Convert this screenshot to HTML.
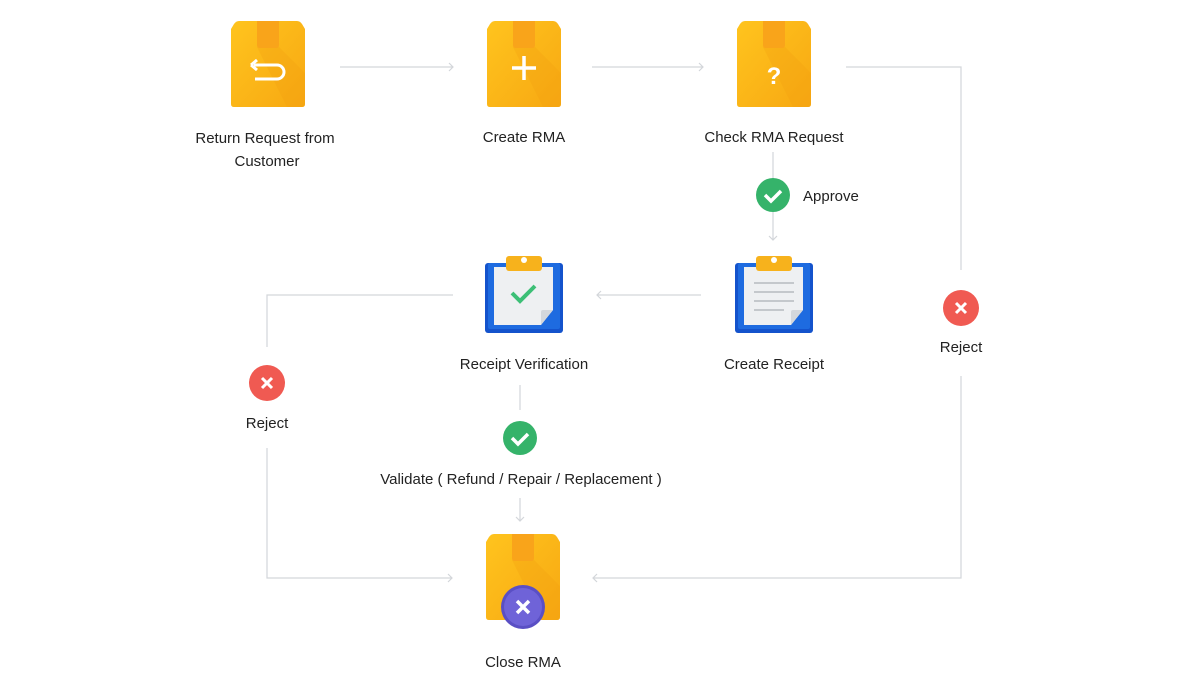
<!DOCTYPE html>
<html><head><meta charset="utf-8"><style>
html,body{margin:0;padding:0;background:#fff;}
svg{display:block;}
text{font-family:"Liberation Sans",sans-serif;font-size:15px;fill:#222;}
</style></head><body>
<svg width="1200" height="691" viewBox="0 0 1200 691" xmlns="http://www.w3.org/2000/svg">
<defs>
<linearGradient id="bx" x1="0" y1="0" x2="1" y2="1"><stop offset="0" stop-color="#ffc41e"/><stop offset="1" stop-color="#f7a812"/></linearGradient>
<g id="box">
<path d="M8 0 H66 Q69 0 71 3 L74 8 V83 Q74 86 71 86 H3 Q0 86 0 83 V8 L3 3 Q5 0 8 0 Z" fill="url(#bx)"/>
<path d="M48 26 L74 52 V83 Q74 86 71 86 H56 L26 26 Z" fill="#f2a010" opacity="0.3"/>
<path d="M26 0 H48 V24 Q48 27 45 27 H29 Q26 27 26 24 Z" fill="#f9a41a"/>
</g>
<g id="clip">
<rect x="0" y="7" width="78" height="70" rx="3" fill="#1453cc"/>
<rect x="3" y="7" width="72" height="66" rx="2" fill="#1e6be0"/>
<path d="M9 11 H68 V54 L56 69 H9 Z" fill="#eef0f2"/>
<path d="M56 69 L68 54 H58 Q56 54 56 56 Z" fill="#d4d8dc"/>
<rect x="21" y="0" width="36" height="15" rx="3" fill="#f7b21c"/>
<circle cx="39" cy="4" r="3" fill="#fff"/>
</g>
</defs>
<g fill="none" stroke="#d3d6da" stroke-width="1.2">
<path d="M340 67H453M449 63l4 4-4 4"/>
<path d="M592 67H703M699 63l4 4-4 4"/>
<path d="M846 67H961V270"/>
<path d="M961 376V578H593M597 574l-4 4 4 4"/>
<path d="M773 152V180M773 212V240M769 236l4 4 4-4"/>
<path d="M701 295H597M601 291l-4 4 4 4"/>
<path d="M453 295H267V347"/>
<path d="M267 448V578H452M448 574l4 4-4 4"/>
<path d="M520 385V410M520 498V521M516 517l4 4 4-4"/>
</g>
<use href="#box" x="231" y="21"/>
<path d="M254 65h23a7 7 0 0 1 0 14h-22M251 65l6-5M251 65l6 5" fill="none" stroke="#fff" stroke-width="3"/>
<use href="#box" x="487" y="21"/>
<path d="M524 56v24M512 68h24" stroke="#fff" stroke-width="3.5"/>
<use href="#box" x="737" y="21"/>
<text x="774" y="84" text-anchor="middle" style="font-size:24px;font-weight:bold;fill:#fff">?</text>
<use href="#box" x="486" y="534"/>
<circle cx="523" cy="607" r="22" fill="#5a4fc4"/>
<circle cx="523" cy="607" r="19" fill="#6f63d8"/>
<path d="M517 601l12 12M529 601l-12 12" stroke="#fff" stroke-width="3.5"/>
<use href="#clip" x="485" y="256"/>
<path d="M512 293l8 8 15-15" fill="none" stroke="#3cbf76" stroke-width="4"/>
<use href="#clip" x="735" y="256"/>
<g stroke="#c4c8cc" stroke-width="2"><path d="M754 283h40M754 292h40M754 301h40M754 310h30"/></g>
<circle cx="773" cy="195" r="17" fill="#35b36a"/>
<path d="M765 195l6 6 10-10" fill="none" stroke="#fff" stroke-width="3.5"/>
<circle cx="520" cy="438" r="17" fill="#35b36a"/>
<path d="M512 438l6 6 10-10" fill="none" stroke="#fff" stroke-width="3.5"/>
<circle cx="961" cy="308" r="18" fill="#f05a52"/>
<path d="M956 303l10 10M966 303l-10 10" stroke="#fff" stroke-width="3"/>
<circle cx="267" cy="383" r="18" fill="#f05a52"/>
<path d="M262 378l10 10M272 378l-10 10" stroke="#fff" stroke-width="3"/>
<text x="265" y="143" text-anchor="middle">Return Request from</text>
<text x="267" y="166" text-anchor="middle">Customer</text>
<text x="524" y="142" text-anchor="middle">Create RMA</text>
<text x="774" y="142" text-anchor="middle">Check RMA Request</text>
<text x="803" y="201">Approve</text>
<text x="774" y="369" text-anchor="middle">Create Receipt</text>
<text x="524" y="369" text-anchor="middle">Receipt Verification</text>
<text x="961" y="352" text-anchor="middle">Reject</text>
<text x="267" y="428" text-anchor="middle">Reject</text>
<text x="521" y="484" text-anchor="middle">Validate ( Refund / Repair / Replacement )</text>
<text x="523" y="667" text-anchor="middle">Close RMA</text>
</svg>
</body></html>
